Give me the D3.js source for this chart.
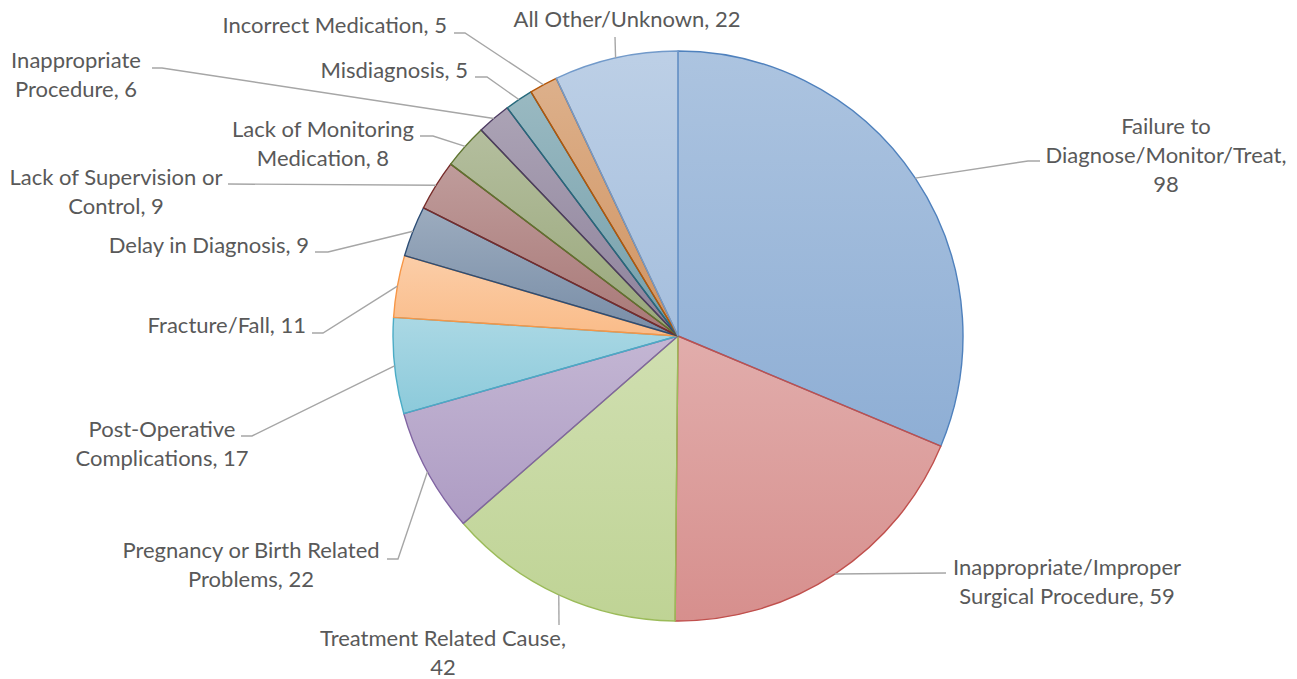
<!DOCTYPE html>
<html>
<head>
<meta charset="utf-8">
<script src="https://cdn.jsdelivr.net/npm/d3@7"></script>
<style>
  html, body { margin: 0; padding: 0; background: #fff; }
  svg { display: block; }
  .lbl { font-family: Lato, "Open Sans", sans-serif; font-size: 22px; fill: #595959; }
</style>
</head>
<body>
<svg id="chart" width="1297" height="679"></svg>
<script>
// causes, in the order the slices run clockwise from 12 o'clock
var categories = [
    "Failure to Diagnose/Monitor/Treat",
    "Inappropriate/Improper Surgical Procedure",
    "Treatment Related Cause",
    "Pregnancy or Birth Related Problems",
    "Post-Operative Complications",
    "Fracture/Fall",
    "Delay in Diagnosis",
    "Lack of Supervision or Control",
    "Lack of Monitoring Medication",
    "Inappropriate Procedure",
    "Misdiagnosis",
    "Incorrect Medication",
    "All Other/Unknown"];
var counts = [98, 59, 42, 22, 17, 11, 9, 9, 8, 6, 5, 5, 22];

// how each label is wrapped onto lines
var labelLines = [
    ["Failure to", "Diagnose/Monitor/Treat,", "98"],
    ["Inappropriate/Improper", "Surgical Procedure, 59"],
    ["Treatment Related Cause,", "42"],
    ["Pregnancy or Birth Related", "Problems, 22"],
    ["Post-Operative", "Complications, 17"],
    ["Fracture/Fall, 11"],
    ["Delay in Diagnosis, 9"],
    ["Lack of Supervision or", "Control, 9"],
    ["Lack of Monitoring", "Medication, 8"],
    ["Inappropriate", "Procedure, 6"],
    ["Misdiagnosis, 5"],
    ["Incorrect Medication, 5"],
    ["All Other/Unknown, 22"]];

// Office theme colours used by the slices
var colors = ["#4F81BD", "#C0504D", "#9BBB59", "#8064A2", "#4BACC6", "#F79646",
              "#2C4D75", "#772C2A", "#5F7530", "#4D3B62", "#276A7C", "#B65708", "#729ACA"];

// where the labels sit (x, first baseline, anchor) and the leader bend points
var labelLayout = [
    {x: 1166, y: 134, a: "middle", lead: [[1028, 161], [1040, 161]]},
    {x: 1067, y: 575, a: "middle", lead: [[946, 573]]},
    {x: 443,  y: 646, a: "middle", lead: [[559, 625]]},
    {x: 251,  y: 558, a: "middle", lead: [[398, 559], [387, 559]]},
    {x: 162,  y: 437, a: "middle", lead: [[252, 436], [241, 436]]},
    {x: 306,  y: 333, a: "end",    lead: [[323, 333], [312, 333]]},
    {x: 309,  y: 253, a: "end",    lead: [[328, 252], [315, 252]]},
    {x: 116,  y: 185, a: "middle", lead: [[228, 184]]},
    {x: 323,  y: 137, a: "middle", lead: [[433, 136], [420, 136]]},
    {x: 76,   y: 68,  a: "middle", lead: [[162, 68], [152, 68]]},
    {x: 468,  y: 78,  a: "end",    lead: [[487, 77], [475, 77]]},
    {x: 447,  y: 33,  a: "end",    lead: [[465, 33], [454, 33]]},
    {x: 627,  y: 27,  a: "middle", lead: [[615, 37]]}];

var cx = 678, cy = 336, radius = 285, lineGap = 29;

var svg = d3.select("#chart");
var defs = svg.append("defs");

var grads = defs.selectAll("linearGradient")
    .data(colors)
    .enter().append("linearGradient")
    .attr("id", function(d, i) { return "g" + i; })
    .attr("x1", 0).attr("y1", 0).attr("x2", 0).attr("y2", 1);
grads.append("stop").attr("offset", 0)
    .attr("stop-color", function(d) { return d; }).attr("stop-opacity", 0.47);
grads.append("stop").attr("offset", 1)
    .attr("stop-color", function(d) { return d; }).attr("stop-opacity", 0.64);

var pie = d3.pie().sort(null).value(function(d) { return d; });
var arcs = pie(counts);
var arc = d3.arc().innerRadius(0).outerRadius(radius);

var g = svg.append("g").attr("transform", "translate(" + cx + "," + cy + ")");

g.selectAll("path.slice")
    .data(arcs)
    .enter().append("path")
    .attr("class", "slice")
    .attr("d", arc)
    .attr("fill", function(d, i) { return "url(#g" + i + ")"; })
    .attr("stroke", function(d, i) { return colors[i]; })
    .attr("stroke-width", 1.4)
    .attr("stroke-linejoin", "round");

// leader lines start on the rim at the middle of each slice
var rimPoint = function(d) {
    var mid = (d.startAngle + d.endAngle) / 2;
    return [cx + radius * Math.sin(mid), cy - radius * Math.cos(mid)];
};

svg.selectAll("path.leader")
    .data(arcs)
    .enter().append("path")
    .attr("class", "leader")
    .attr("d", function(d, i) { return d3.line()([rimPoint(d)].concat(labelLayout[i].lead)); })
    .attr("fill", "none")
    .attr("stroke", "#A6A6A6")
    .attr("stroke-width", 1.4);

var labels = svg.selectAll("text.lbl")
    .data(categories)
    .enter().append("text")
    .attr("class", "lbl")
    .attr("text-anchor", function(d, i) { return labelLayout[i].a; });

labels.each(function(d, i) {
    var t = d3.select(this);
    labelLines[i].forEach(function(line, k) {
        t.append("tspan")
            .attr("x", labelLayout[i].x)
            .attr("y", labelLayout[i].y + k * lineGap)
            .text(line);
    });
});
</script>
</body>
</html>
